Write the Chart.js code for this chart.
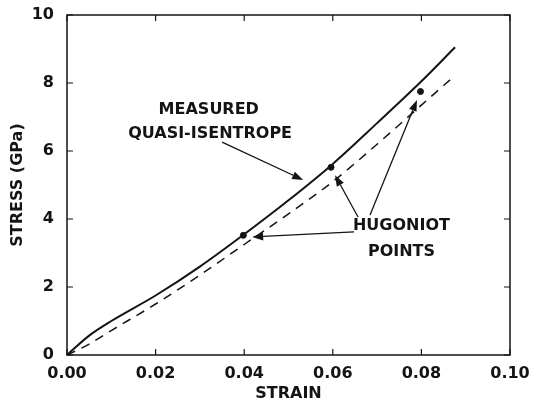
<!DOCTYPE html>
<html>
<head>
<meta charset="utf-8">
<script src="https://cdn.jsdelivr.net/npm/chart.js@4/dist/chart.umd.min.js"></script>
<style>
  html, body { margin: 0; padding: 0; background: #fff; }
  #wrap { width: 540px; height: 407px; }
</style>
</head>
<body>
<div id="wrap"><canvas id="stressChart" width="540" height="407"></canvas></div>
<script>
// Pull out information
var isentropeStrain = [0, 0.005, 0.01, 0.02, 0.03, 0.04, 0.05, 0.06, 0.07, 0.08, 0.0876];
var isentropeStress = [0, 0.57, 1.0, 1.75, 2.6, 3.55, 4.55, 5.62, 6.82, 8.05, 9.05];

var hugoniotCurveStrain = [0, 0.005, 0.01, 0.02, 0.03, 0.04, 0.05, 0.06, 0.07, 0.08, 0.0867];
var hugoniotCurveStress = [0, 0.32, 0.72, 1.5, 2.35, 3.25, 4.15, 5.1, 6.2, 7.35, 8.12];

var hugoniotStrain = [0.0398, 0.0596, 0.0798];
var hugoniotStress = [3.52, 5.52, 7.75];

var xTicks = [0, 0.02, 0.04, 0.06, 0.08, 0.10];
var yTicks = [0, 2, 4, 6, 8, 10];

// labels and arrows, in data units (tail -> head)
var labelLines = [
    { text: "MEASURED", x: 0.0320, y: 7.22 },
    { text: "QUASI-ISENTROPE", x: 0.0323, y: 6.5 },
    { text: "HUGONIOT", x: 0.0755, y: 3.8 },
    { text: "POINTS", x: 0.0755, y: 3.03 }
];
var arrows = [
    [0.0350, 6.26, 0.0533, 5.15],
    [0.0648, 3.62, 0.0418, 3.47],
    [0.0657, 4.06, 0.0605, 5.29],
    [0.0684, 4.12, 0.0790, 7.50]
];

var ink = "#141414";
var fontFamily = "'DejaVu Sans', sans-serif";

function toPoints(xs, ys) {
    return xs.map(function (x, i) { return { x: x, y: ys[i] }; });
}

// frame, inward ticks and annotations
var framePlugin = {
    id: 'frame',
    afterDatasetsDraw: function (chart) {
        var ctx = chart.ctx;
        var xs = chart.scales.x, ys = chart.scales.y;
        var a = chart.chartArea;
        ctx.save();
        ctx.strokeStyle = ink;
        ctx.lineWidth = 1.5;
        ctx.strokeRect(a.left, a.top, a.right - a.left, a.bottom - a.top);
        ctx.lineWidth = 1.2;
        ctx.beginPath();
        xTicks.forEach(function (t) {
            var px = xs.getPixelForValue(t);
            ctx.moveTo(px, a.bottom); ctx.lineTo(px, a.bottom - 6);
            ctx.moveTo(px, a.top); ctx.lineTo(px, a.top + 6);
        });
        yTicks.forEach(function (t) {
            var py = ys.getPixelForValue(t);
            ctx.moveTo(a.left, py); ctx.lineTo(a.left + 6, py);
            ctx.moveTo(a.right, py); ctx.lineTo(a.right - 6, py);
        });
        ctx.stroke();

        // annotation text
        ctx.fillStyle = ink;
        ctx.font = "bold 16px " + fontFamily;
        ctx.textAlign = "center";
        ctx.textBaseline = "middle";
        labelLines.forEach(function (l) {
            ctx.fillText(l.text, xs.getPixelForValue(l.x), ys.getPixelForValue(l.y));
        });

        // arrows
        ctx.lineWidth = 1.3;
        arrows.forEach(function (ar) {
            var x0 = xs.getPixelForValue(ar[0]), y0 = ys.getPixelForValue(ar[1]);
            var x1 = xs.getPixelForValue(ar[2]), y1 = ys.getPixelForValue(ar[3]);
            var ang = Math.atan2(y1 - y0, x1 - x0);
            var hl = 11, hw = 4;
            var bx = x1 - hl * Math.cos(ang), by = y1 - hl * Math.sin(ang);
            ctx.beginPath();
            ctx.moveTo(x0, y0); ctx.lineTo(bx, by);
            ctx.stroke();
            ctx.beginPath();
            ctx.moveTo(x1, y1);
            ctx.lineTo(bx + hw * Math.sin(ang), by - hw * Math.cos(ang));
            ctx.lineTo(bx - hw * Math.sin(ang), by + hw * Math.cos(ang));
            ctx.closePath();
            ctx.fill();
        });
        ctx.restore();
    }
};

var chartData = {
    datasets: [
        {
            label: "Measured quasi-isentrope",
            data: toPoints(isentropeStrain, isentropeStress),
            borderColor: ink,
            borderWidth: 2,
            pointRadius: 0,
            cubicInterpolationMode: 'monotone',
            showLine: true
        },
        {
            label: "Hugoniot",
            data: toPoints(hugoniotCurveStrain, hugoniotCurveStress),
            borderColor: ink,
            borderWidth: 1.5,
            borderDash: [9, 7],
            pointRadius: 0,
            cubicInterpolationMode: 'monotone',
            showLine: true
        },
        {
            label: "Hugoniot points",
            data: toPoints(hugoniotStrain, hugoniotStress),
            backgroundColor: ink,
            borderColor: ink,
            pointRadius: 3,
            showLine: false
        }
    ]
};

var chartOptions = {
    responsive: false,
    animation: false,
    layout: { padding: { left: 0, right: 30, top: 15, bottom: 0 } },
    plugins: {
        legend: { display: false },
        tooltip: { enabled: false }
    },
    scales: {
        x: {
            type: 'linear',
            min: 0,
            max: 0.1,
            afterBuildTicks: function (scale) {
                scale.ticks = xTicks.map(function (v) { return { value: v }; });
            },
            afterFit: function (scale) { scale.height = 52; },
            grid: { display: false, drawTicks: false },
            border: { display: false },
            ticks: {
                padding: 9,
                color: ink,
                maxRotation: 0,
                font: { family: fontFamily, size: 16, weight: 'bold' },
                callback: function (v) { return Number(v).toFixed(2); }
            },
            title: {
                display: true,
                text: "STRAIN",
                color: ink,
                padding: { top: 0, bottom: 4 },
                font: { family: fontFamily, size: 16, weight: 'bold' }
            }
        },
        y: {
            type: 'linear',
            min: 0,
            max: 10,
            afterBuildTicks: function (scale) {
                scale.ticks = yTicks.map(function (v) { return { value: v }; });
            },
            afterFit: function (scale) {
                scale.width = 67;
                scale.paddingTop = 0;
                scale.paddingBottom = 0;
            },
            grid: { display: false, drawTicks: false },
            border: { display: false },
            ticks: {
                padding: 13,
                color: ink,
                font: { family: fontFamily, size: 16, weight: 'bold' }
            },
            title: {
                display: true,
                text: "STRESS (GPa)",
                color: ink,
                padding: { top: 8, bottom: 0 },
                font: { family: fontFamily, size: 16, weight: 'bold' }
            }
        }
    }
};

var stressCtx = document.getElementById("stressChart").getContext('2d');
var stressChart = new Chart(stressCtx, {
    type: 'scatter',
    data: chartData,
    options: chartOptions,
    plugins: [framePlugin]
});
</script>
</body>
</html>
